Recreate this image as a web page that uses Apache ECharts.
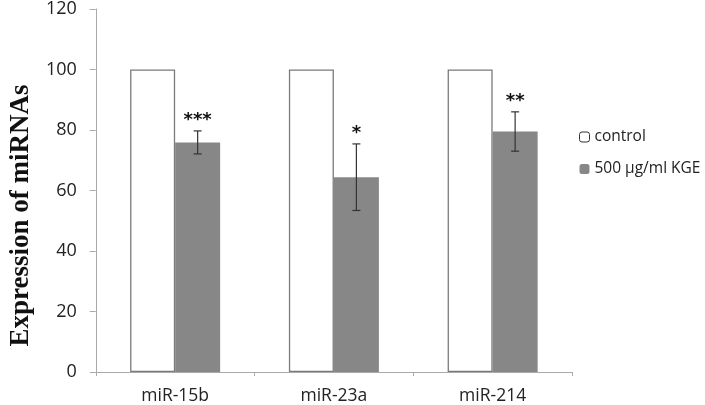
<!DOCTYPE html>
<html><head><meta charset="utf-8">
<script src="https://cdn.jsdelivr.net/npm/echarts@6/dist/echarts.min.js"></script>
<style>html,body{margin:0;padding:0;background:#fff}#c{width:705px;height:405px}</style>
</head><body><div id="c"></div>
<script>
const categories = ['miR-15b', 'miR-23a', 'miR-214'];
const controlValues = [100, 100, 100];
const kgeValues = [75.9, 64.4, 79.5];
const kgeErrors = [3.8, 11, 6.5];
const significance = ['***', '*', '**'];
const yTicks = [0, 20, 40, 60, 80, 100, 120];

const BAR_W = 45;
const chart = echarts.init(document.getElementById('c'));
chart.setOption({
  animation: false,
  backgroundColor: '#fff',
  grid: { left: 91, right: 133, top: 7.4, bottom: 32.3, containLabel: false },
  legend: {
    orient: 'vertical', left: 574, top: 124, itemWidth: 10, itemHeight: 10, itemGap: 16,
    textStyle: { fontFamily: 'Open Sans', fontSize: 15.5, color: '#222' },
    data: [
      { name: 'control', itemStyle: { color: '#fff', borderColor: '#333', borderWidth: 1 } },
      { name: '500 µg/ml KGE', itemStyle: { color: '#878787', borderWidth: 0 } }
    ]
  },
  xAxis: {
    type: 'category', data: categories,
    axisLine: { lineStyle: { color: '#aaa', width: 1 } },
    axisTick: { show: true, length: 4, lineStyle: { color: '#aaa' } },
    axisLabel: { fontFamily: 'Open Sans', fontSize: 17.5, color: '#222', margin: 15 }
  },
  yAxis: {
    type: 'value', min: 0, max: 120, interval: 20,
    name: 'Expression of miRNAs', nameLocation: 'middle', nameGap: 60,
    nameTextStyle: { fontFamily: 'Liberation Serif', fontWeight: 'bold', fontSize: 27, color: '#111',
      padding: [0, 50, 0, 0] },
    axisLine: { show: true, lineStyle: { color: '#aaa', width: 1 } },
    axisTick: { show: true, length: 6, lineStyle: { color: '#aaa' } },
    splitLine: { show: false },
    axisLabel: { fontFamily: 'Open Sans', fontSize: 18, color: '#222', margin: 19,
      formatter: v => yTicks.includes(v) ? String(v) : '' }
  },
  series: [
    { name: 'control', type: 'bar', data: controlValues, barWidth: BAR_W, barGap: '0%',
      itemStyle: { color: '#fff', borderColor: '#7a7a7a', borderWidth: 1.3 } },
    { name: '500 µg/ml KGE', type: 'bar', data: kgeValues, barWidth: BAR_W, barGap: '0%',
      itemStyle: { color: '#878787', borderWidth: 0 } },
    { name: 'err', type: 'custom', z: 10,
      data: kgeValues.map((v, i) => [i, v, kgeErrors[i]]),
      encode: { x: 0, y: 1 },
      renderItem: function (params, api) {
        const i = api.value(0), m = api.value(1), e = api.value(2);
        const hi = api.coord([i, m + e]), lo = api.coord([i, m - e]);
        const cx = hi[0] + BAR_W / 2;
        const st = { stroke: '#333', lineWidth: 1.2 };
        return { type: 'group', children: [
          { type: 'line', shape: { x1: cx, y1: hi[1], x2: cx, y2: lo[1] }, style: st },
          { type: 'line', shape: { x1: cx - 4, y1: hi[1], x2: cx + 4, y2: hi[1] }, style: st },
          { type: 'line', shape: { x1: cx - 4, y1: lo[1], x2: cx + 4, y2: lo[1] }, style: st },
          { type: 'text', x: cx, y: hi[1] - 10.5, style: { text: significance[i], fill: '#111',
            font: 'bold 18px "DejaVu Sans"', align: 'center', verticalAlign: 'middle' } }
        ]};
      }
    }
  ]
});
</script></body></html>
